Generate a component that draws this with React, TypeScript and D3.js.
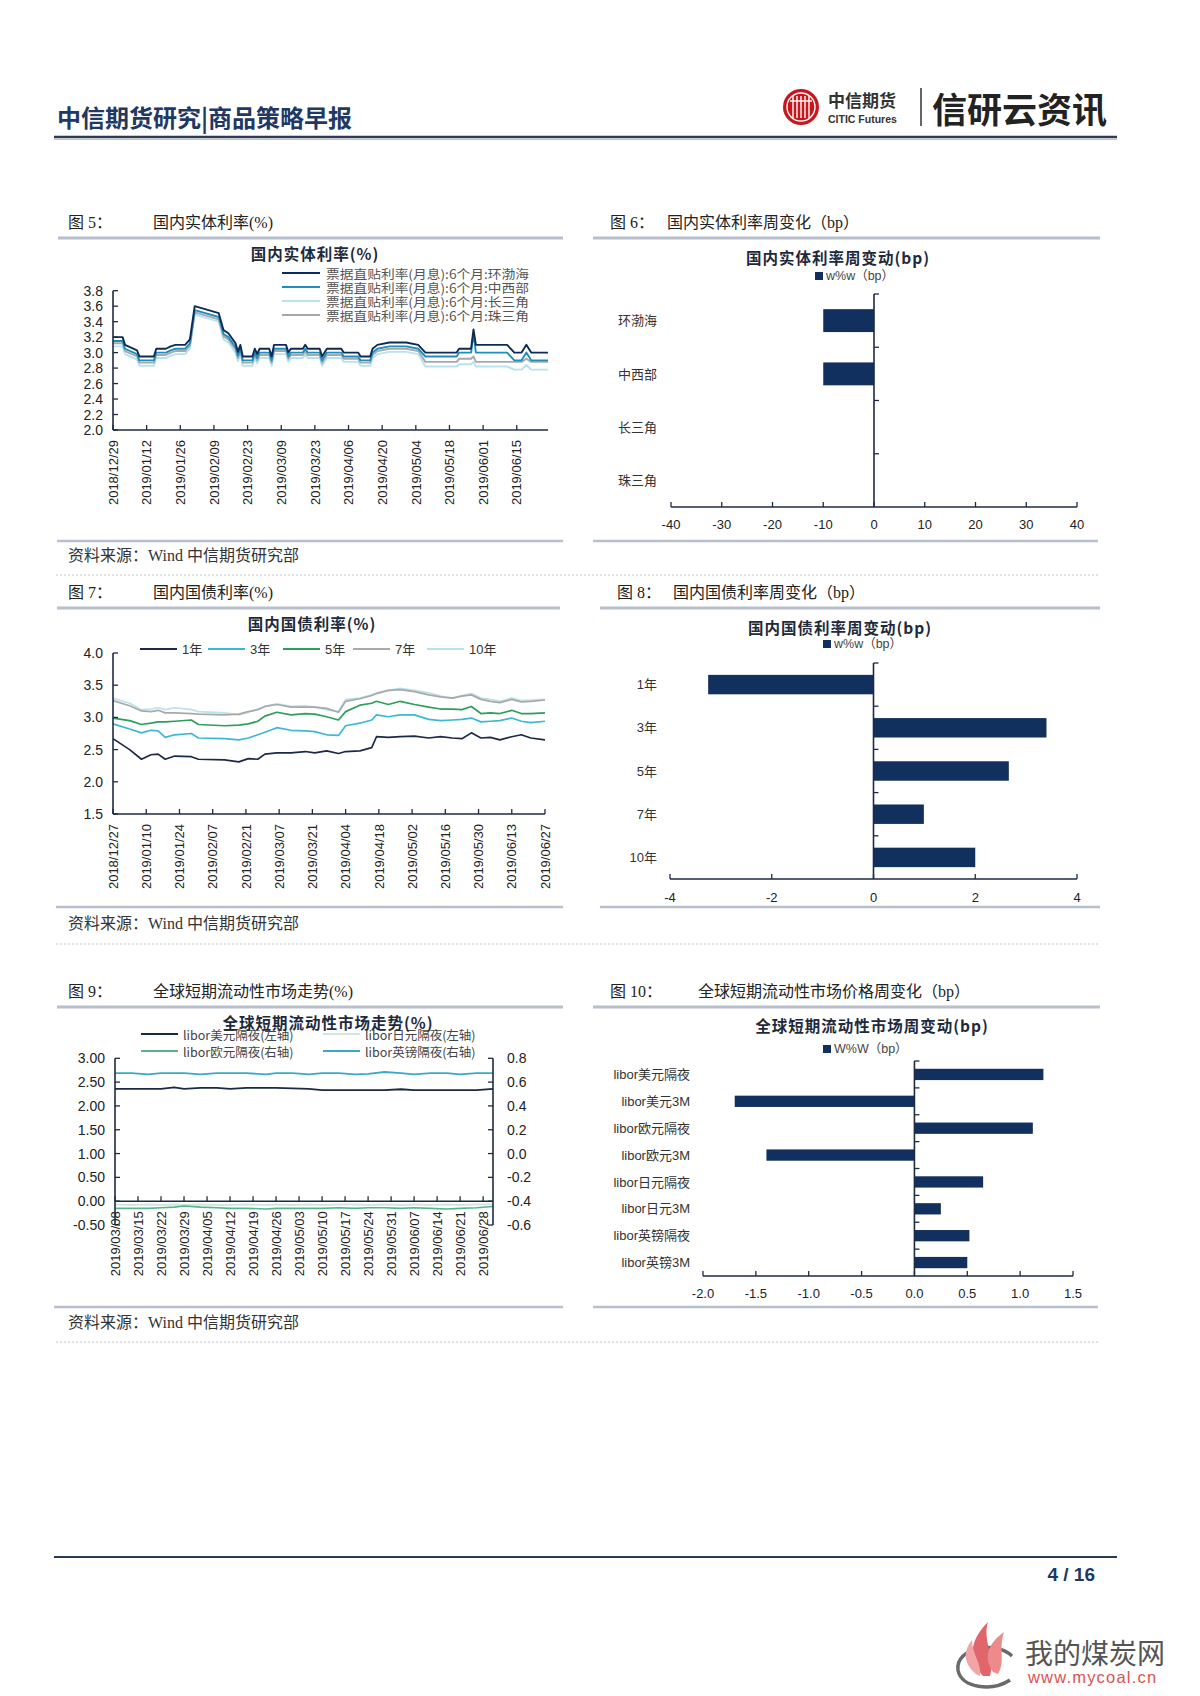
import React from "react";
import * as d3 from "d3";

// ---------------- fonts / colours ----------------
const SANS = "'Liberation Sans', Arial, 'Noto Sans CJK SC', sans-serif";
const SERIF = "'Liberation Serif', 'Noto Sans CJK SC', serif";
const CJK = "'Noto Sans CJK SC', sans-serif";
const NAVY = "#12305e";
const AXIS = "#1d2b45";
const RULE = "#b7c0cc";

// ---------------- chart 5 data ----------------
const dates5 = [
  "2018-12-29", "2019-01-02", "2019-01-03", "2019-01-08", "2019-01-09", "2019-01-15", "2019-01-16", "2019-01-20", "2019-01-22", "2019-01-24",
  "2019-01-28", "2019-01-30", "2019-02-01", "2019-02-11", "2019-02-13", "2019-02-15", "2019-02-18", "2019-02-19", "2019-02-20", "2019-02-21",
  "2019-02-25", "2019-02-26", "2019-02-27", "2019-02-28", "2019-03-04", "2019-03-05", "2019-03-06", "2019-03-11", "2019-03-12", "2019-03-13",
  "2019-03-18", "2019-03-19", "2019-03-20", "2019-03-25", "2019-03-26", "2019-03-28", "2019-04-03", "2019-04-04", "2019-04-10", "2019-04-11",
  "2019-04-15", "2019-04-16", "2019-04-18", "2019-04-23", "2019-04-30", "2019-05-05", "2019-05-08", "2019-05-21", "2019-05-22", "2019-05-27",
  "2019-05-28", "2019-05-29", "2019-06-11", "2019-06-14", "2019-06-17", "2019-06-19", "2019-06-21", "2019-06-28",
];
const huanbohai5 = [
  3.2, 3.2, 3.1, 3.03, 2.95, 2.95, 3.05, 3.05, 3.08, 3.1,
  3.1, 3.17, 3.6, 3.51, 3.29, 3.25, 3.12, 3.01, 3.1, 2.95,
  2.95, 3.05, 2.98, 3.05, 3.05, 2.95, 3.1, 3.1, 3.0, 3.05,
  3.05, 3.1, 3.05, 3.05, 2.95, 3.05, 3.05, 3.0, 3.0, 2.95,
  2.95, 3.05, 3.1, 3.13, 3.13, 3.1, 3.0, 3.0, 3.05, 3.05,
  3.3, 3.1, 3.1, 3.0, 3.0, 3.1, 3.0, 3.0,
];
const zhongxibu5 = [
  3.15, 3.15, 3.05, 2.98, 2.9, 2.9, 3.0, 3.0, 3.03, 3.05,
  3.05, 3.12, 3.55, 3.46, 3.24, 3.2, 3.07, 2.96, 3.05, 2.9,
  2.9, 3.0, 2.93, 3.0, 3.0, 2.9, 3.05, 3.05, 2.95, 3.0,
  3.0, 3.05, 3.0, 3.0, 2.9, 3.0, 3.0, 2.95, 2.95, 2.9,
  2.9, 3.0, 3.05, 3.08, 3.08, 3.05, 2.95, 2.95, 3.0, 3.0,
  3.25, 3.0, 3.0, 2.9, 2.9, 3.0, 2.9, 2.9,
];
const changsanjiao5 = [
  3.08, 3.08, 2.98, 2.91, 2.83, 2.83, 2.93, 2.93, 2.96, 2.98,
  2.98, 3.05, 3.49, 3.4, 3.17, 3.13, 3.0, 2.89, 2.98, 2.83,
  2.83, 2.93, 2.86, 2.93, 2.93, 2.83, 2.98, 2.98, 2.88, 2.93,
  2.93, 2.98, 2.93, 2.93, 2.83, 2.93, 2.93, 2.88, 2.88, 2.83,
  2.83, 2.93, 2.98, 3.01, 3.01, 2.98, 2.82, 2.82, 2.85, 2.85,
  2.88, 2.82, 2.82, 2.78, 2.78, 2.84, 2.78, 2.78,
];
const zhusanjiao5 = [
  3.12, 3.12, 3.02, 2.95, 2.87, 2.87, 2.97, 2.97, 3.0, 3.02,
  3.02, 3.09, 3.52, 3.43, 3.21, 3.17, 3.04, 2.93, 3.02, 2.87,
  2.87, 2.97, 2.9, 2.97, 2.97, 2.87, 3.02, 3.02, 2.92, 2.97,
  2.97, 3.02, 2.97, 2.97, 2.87, 2.97, 2.97, 2.92, 2.92, 2.87,
  2.87, 2.97, 3.02, 3.05, 3.05, 3.02, 2.88, 2.88, 2.92, 2.92,
  2.95, 2.88, 2.88, 2.88, 2.88, 2.92, 2.88, 2.88,
];
const legend5 = [
  "票据直贴利率(月息):6个月:环渤海",
  "票据直贴利率(月息):6个月:中西部",
  "票据直贴利率(月息):6个月:长三角",
  "票据直贴利率(月息):6个月:珠三角",
];
const xLabels5 = [
  "2018/12/29", "2019/01/12", "2019/01/26", "2019/02/09", "2019/02/23", "2019/03/09", "2019/03/23",
  "2019/04/06", "2019/04/20", "2019/05/04", "2019/05/18", "2019/06/01", "2019/06/15",
];
const yTicks5 = [2.0, 2.2, 2.4, 2.6, 2.8, 3.0, 3.2, 3.4, 3.6, 3.8];

// ---------------- chart 6 data ----------------
const cats6 = ["环渤海", "中西部", "长三角", "珠三角"];
const vals6 = [-10, -10, 0, 0];
const ticks6 = [-40, -30, -20, -10, 0, 10, 20, 30, 40];

// ---------------- chart 7 data ----------------
const dates7 = [
  "2018-12-27", "2019-01-03", "2019-01-08", "2019-01-12", "2019-01-15", "2019-01-18", "2019-01-22", "2019-01-29", "2019-02-01", "2019-02-12",
  "2019-02-18", "2019-02-22", "2019-02-26", "2019-03-01", "2019-03-06", "2019-03-12", "2019-03-18", "2019-03-22", "2019-03-27", "2019-04-01",
  "2019-04-04", "2019-04-10", "2019-04-15", "2019-04-17", "2019-04-22", "2019-04-27", "2019-05-03", "2019-05-09", "2019-05-14", "2019-05-19",
  "2019-05-23", "2019-05-27", "2019-05-31", "2019-06-04", "2019-06-08", "2019-06-13", "2019-06-17", "2019-06-21", "2019-06-27",
];
const y1_7 = [
  2.67, 2.5, 2.35, 2.42, 2.43, 2.35, 2.4, 2.39, 2.35, 2.34,
  2.31, 2.36, 2.35, 2.43, 2.45, 2.45, 2.47, 2.45, 2.48, 2.44,
  2.47, 2.48, 2.53, 2.7, 2.69, 2.7, 2.71, 2.68, 2.7, 2.68,
  2.67, 2.76, 2.68, 2.69, 2.65, 2.7, 2.73, 2.68, 2.65,
];
const y3_7 = [
  2.9, 2.82, 2.76, 2.8, 2.79, 2.69, 2.73, 2.75, 2.68, 2.67,
  2.65, 2.68, 2.73, 2.77, 2.84, 2.8, 2.79, 2.78, 2.73, 2.72,
  2.87, 2.91, 2.96, 3.04, 3.01, 3.04, 3.04, 2.97, 2.95, 2.96,
  2.97, 2.99, 2.93, 2.94, 2.95, 2.99, 2.94, 2.92, 2.94,
];
const y5_7 = [
  2.99, 2.95, 2.89, 2.91, 2.93, 2.93, 2.94, 2.96, 2.89, 2.87,
  2.88, 2.9, 2.94, 3.02, 3.08, 3.04, 3.06, 3.05, 3.01, 2.96,
  3.09, 3.19, 3.22, 3.25, 3.2, 3.25, 3.2, 3.16, 3.13, 3.13,
  3.12, 3.17, 3.06, 3.07, 3.06, 3.11, 3.06, 3.06, 3.07,
];
const y7_7 = [
  3.26, 3.18, 3.1, 3.09, 3.11, 3.07, 3.07, 3.06, 3.05, 3.04,
  3.05, 3.09, 3.12, 3.17, 3.2, 3.16, 3.16, 3.16, 3.14, 3.08,
  3.25, 3.29, 3.34, 3.37, 3.42, 3.43, 3.4, 3.35, 3.32, 3.3,
  3.33, 3.35, 3.28, 3.25, 3.23, 3.28, 3.24, 3.25, 3.27,
];
const y10_7 = [
  3.3, 3.22, 3.12, 3.13, 3.15, 3.12, 3.15, 3.12, 3.09, 3.07,
  3.04, 3.08, 3.13, 3.17, 3.21, 3.17, 3.18, 3.16, 3.12, 3.09,
  3.28, 3.3, 3.35, 3.38, 3.42, 3.45, 3.42, 3.38, 3.33, 3.3,
  3.34, 3.37, 3.3, 3.28, 3.25, 3.3, 3.26, 3.27, 3.28,
];
const names7 = ["1年", "3年", "5年", "7年", "10年"];
const xLabels7 = [
  "2018/12/27", "2019/01/10", "2019/01/24", "2019/02/07", "2019/02/21", "2019/03/07", "2019/03/21",
  "2019/04/04", "2019/04/18", "2019/05/02", "2019/05/16", "2019/05/30", "2019/06/13", "2019/06/27",
];
const yTicks7 = [1.5, 2.0, 2.5, 3.0, 3.5, 4.0];

// ---------------- chart 8 data ----------------
const cats8 = ["1年", "3年", "5年", "7年", "10年"];
const vals8 = [-3.25, 3.4, 2.66, 0.99, 2.0];
const ticks8 = [-4, -2, 0, 2, 4];

// ---------------- chart 9 data ----------------
const dates9 = [
  "2019-03-08", "2019-03-13", "2019-03-18", "2019-03-22", "2019-03-26", "2019-03-29", "2019-04-03", "2019-04-08", "2019-04-12", "2019-04-17",
  "2019-04-23", "2019-04-26", "2019-05-01", "2019-05-06", "2019-05-10", "2019-05-15", "2019-05-20", "2019-05-24", "2019-05-29", "2019-06-03",
  "2019-06-07", "2019-06-12", "2019-06-17", "2019-06-21", "2019-06-26", "2019-07-01",
];
const usd9 = [
  2.36, 2.36, 2.36, 2.36, 2.39, 2.36, 2.38, 2.38, 2.36, 2.38,
  2.38, 2.38, 2.37, 2.36, 2.33, 2.33, 2.33, 2.33, 2.33, 2.35,
  2.33, 2.33, 2.33, 2.33, 2.33, 2.36,
];
const jpy9 = [
  -0.07, -0.08, -0.07, -0.08, -0.07, -0.08, -0.07, -0.08, -0.08, -0.07,
  -0.08, -0.07, -0.08, -0.07, -0.08, -0.07, -0.07, -0.08, -0.07, -0.08,
  -0.07, -0.08, -0.07, -0.08, -0.07, -0.07,
];
const eur9 = [
  -0.46, -0.46, -0.46, -0.455, -0.45, -0.44, -0.45, -0.455, -0.46, -0.46,
  -0.465, -0.46, -0.46, -0.46, -0.46, -0.455, -0.46, -0.455, -0.455, -0.46,
  -0.455, -0.46, -0.465, -0.46, -0.455, -0.445,
];
const gbp9 = [
  0.675, 0.675, 0.665, 0.675, 0.675, 0.675, 0.665, 0.675, 0.675, 0.675,
  0.665, 0.675, 0.675, 0.665, 0.675, 0.675, 0.665, 0.67, 0.685, 0.675,
  0.665, 0.675, 0.675, 0.665, 0.675, 0.675,
];
const names9 = ["libor美元隔夜(左轴)", "libor日元隔夜(左轴)", "libor欧元隔夜(右轴)", "libor英镑隔夜(右轴)"];
const xLabels9 = [
  "2019/03/08", "2019/03/15", "2019/03/22", "2019/03/29", "2019/04/05", "2019/04/12", "2019/04/19", "2019/04/26", "2019/05/03",
  "2019/05/10", "2019/05/17", "2019/05/24", "2019/05/31", "2019/06/07", "2019/06/14", "2019/06/21", "2019/06/28",
];
const yTicksLeft9 = [-0.5, 0, 0.5, 1.0, 1.5, 2.0, 2.5, 3.0];
const yTicksRight9 = [-0.6, -0.4, -0.2, 0, 0.2, 0.4, 0.6, 0.8];

// ---------------- chart 10 data ----------------
const cats10 = ["libor美元隔夜", "libor美元3M", "libor欧元隔夜", "libor欧元3M", "libor日元隔夜", "libor日元3M", "libor英镑隔夜", "libor英镑3M"];
const vals10 = [1.22, -1.7, 1.12, -1.4, 0.65, 0.25, 0.52, 0.5];
const ticks10 = [-2.0, -1.5, -1.0, -0.5, 0, 0.5, 1.0, 1.5];

// ---------------- helpers ----------------
const parseD = d3.timeParse("%Y-%m-%d");
const parseL = d3.timeParse("%Y/%m/%d");
const hyphenLocale = d3.formatLocale({ decimal: ".", thousands: ",", grouping: [3], currency: ["", ""], minus: "-" });
const f0 = hyphenLocale.format("d");
const f1 = hyphenLocale.format(".1f");
const f2 = hyphenLocale.format(".2f");

function SeriesLine({ dates, vals, x, y, color, width }: any) {
  const line = d3
    .line<number>()
    .x((_, i) => x(parseD(dates[i])))
    .y((v) => y(v));
  return <path d={line(vals) || ""} fill="none" stroke={color} strokeWidth={width} strokeLinejoin="round" />;
}

function XDateAxis({ x, y0, labels, x0, x1 }: any) {
  return (
    <g>
      <line x1={x0} x2={x1} y1={y0} y2={y0} stroke={AXIS} strokeWidth={1.6} />
      {labels.map((l: string) => {
        const px = x(parseL(l));
        return (
          <g key={l}>
            <line x1={px} x2={px} y1={y0} y2={y0 - 5} stroke={AXIS} strokeWidth={1.3} />
            <text
              transform={`translate(${px},${y0 + 10}) rotate(-90)`}
              textAnchor="end"
              dy="0.36em"
              fontSize={13}
              fontFamily={SANS}
              fill="#222"
            >
              {l}
            </text>
          </g>
        );
      })}
    </g>
  );
}

function YAxis({ y, ticks, x0, fmt, side = "left" }: any) {
  const [d0, d1] = y.domain();
  const dir = side === "left" ? 1 : -1;
  return (
    <g>
      <line x1={x0} x2={x0} y1={y(d0)} y2={y(d1)} stroke={AXIS} strokeWidth={1.6} />
      {ticks.map((t: number) => (
        <g key={t}>
          <line x1={x0} x2={x0 + dir * 5} y1={y(t)} y2={y(t)} stroke={AXIS} strokeWidth={1.3} />
          <text
            x={side === "left" ? x0 - 10 : x0 + 14}
            y={y(t)}
            dy="0.36em"
            textAnchor={side === "left" ? "end" : "start"}
            fontSize={14}
            fontFamily={SANS}
            fill="#222"
          >
            {fmt(t)}
          </text>
        </g>
      ))}
    </g>
  );
}

function ChartTitle({ x, y, text }: any) {
  return (
    <text x={x} y={y} textAnchor="middle" dominantBaseline="central" fontSize={15.5} fontWeight="bold" letterSpacing={1} fontFamily={CJK} fill="#1e2a3c">
      {text}
    </text>
  );
}

function BarChart({ cats, vals, ticks, xr, yr, labelX, tickLabelY, fmt, ratio, legendText, legendX, legendY }: any) {
  const x = d3.scaleLinear().domain([ticks[0], ticks[ticks.length - 1]]).range(xr);
  const band = d3.scaleBand<string>().domain(cats).range(yr).padding(0);
  const bw = band.bandwidth();
  const bh = bw * ratio;
  const x0 = x(0);
  return (
    <g>
      <rect x={legendX} y={legendY - 4} width={8} height={8} fill={NAVY} />
      <text x={legendX + 11} y={legendY} dominantBaseline="central" fontSize={12.5} fontFamily={SANS} fill="#444">
        {legendText}
      </text>
      {cats.map((c: string, i: number) => {
        const v = vals[i];
        const by = (band(c) as number) + (bw - bh) / 2;
        return (
          <g key={c}>
            {v !== 0 && <rect x={Math.min(x0, x(v))} y={by} width={Math.abs(x(v) - x0)} height={bh} fill={NAVY} />}
            <text x={labelX} y={(band(c) as number) + bw / 2} dy="0.36em" textAnchor="end" fontSize={13} fontFamily={SANS} fill="#333">
              {c}
            </text>
          </g>
        );
      })}
      <line x1={x0} x2={x0} y1={yr[0]} y2={yr[1]} stroke={AXIS} strokeWidth={1.6} />
      {cats.map((c: string) => (
        <line key={"t" + c} x1={x0} x2={x0 + 5} y1={band(c) as number} y2={band(c) as number} stroke={AXIS} strokeWidth={1.3} />
      ))}
      <line x1={xr[0]} x2={xr[1]} y1={yr[1]} y2={yr[1]} stroke={AXIS} strokeWidth={1.6} />
      {ticks.map((t: number) => (
        <g key={t}>
          <line x1={x(t)} x2={x(t)} y1={yr[1]} y2={yr[1] - 5} stroke={AXIS} strokeWidth={1.3} />
          <text x={x(t)} y={tickLabelY} dy="0.36em" textAnchor="middle" fontSize={13} fontFamily={SANS} fill="#222">
            {fmt(t)}
          </text>
        </g>
      ))}
    </g>
  );
}

function Caption({ x1, x2, y, text, lineY, lx0, lx1 }: any) {
  return (
    <g>
      <text x={x1} y={y} dominantBaseline="central" fontSize={16} fontFamily={SERIF} fill="#222">
        {text[0]}
      </text>
      <text x={x2} y={y} dominantBaseline="central" fontSize={16} fontFamily={SERIF} fill="#222">
        {text[1]}
      </text>
      <line x1={lx0} x2={lx1} y1={lineY} y2={lineY} stroke={RULE} strokeWidth={3} />
    </g>
  );
}

// ---------------- charts ----------------
function Chart5() {
  const x = d3.scaleTime().domain([parseD("2018-12-29") as Date, parseD("2019-06-28") as Date]).range([113, 548]);
  const y = d3.scaleLinear().domain([2.0, 3.8]).range([430, 290.7]);
  const colors = ["#0e2b57", "#1d8fbd", "#b6e3ef", "#a8a8a8"];
  const series = [huanbohai5, zhongxibu5, changsanjiao5, zhusanjiao5];
  const order = [2, 3, 1, 0];
  return (
    <g>
      <ChartTitle x={315} y={253} text="国内实体利率(%)" />
      {legend5.map((n, i) => (
        <g key={n}>
          <line x1={282} x2={320} y1={273 + i * 14} y2={273 + i * 14} stroke={colors[i]} strokeWidth={2} />
          <text
            x={326}
            y={273 + i * 14}
            dominantBaseline="central"
            fontSize={12.5}
            textLength={203}
            lengthAdjust="spacingAndGlyphs"
            fontFamily={CJK}
            fill="#555"
          >
            {n}
          </text>
        </g>
      ))}
      {order.map((k) => (
        <SeriesLine key={k} dates={dates5} vals={series[k]} x={x} y={y} color={colors[k]} width={1.9} />
      ))}
      <YAxis y={y} ticks={yTicks5} x0={113} fmt={f1} />
      <XDateAxis x={x} y0={430} labels={xLabels5} x0={113} x1={548} />
    </g>
  );
}

function Chart7() {
  const x = d3.scaleTime().domain([parseD("2018-12-27") as Date, parseD("2019-06-27") as Date]).range([113, 545]);
  const y = d3.scaleLinear().domain([1.5, 4.0]).range([814, 653]);
  const colors = ["#1b2a48", "#3bb8d6", "#2d9e5c", "#a9a9a9", "#b9e2ef"];
  const series = [y1_7, y3_7, y5_7, y7_7, y10_7];
  const legX = [140, 208, 283, 353, 427];
  const order = [4, 3, 2, 1, 0];
  return (
    <g>
      <ChartTitle x={312} y={623} text="国内国债利率(%)" />
      {names7.map((n, i) => (
        <g key={n}>
          <line x1={legX[i]} x2={legX[i] + 37} y1={649} y2={649} stroke={colors[i]} strokeWidth={2} />
          <text x={legX[i] + 42} y={649} dominantBaseline="central" fontSize={13} fontFamily={SANS} fill="#333">
            {n}
          </text>
        </g>
      ))}
      {order.map((k) => (
        <SeriesLine key={k} dates={dates7} vals={series[k]} x={x} y={y} color={colors[k]} width={1.7} />
      ))}
      <YAxis y={y} ticks={yTicks7} x0={113} fmt={f1} />
      <XDateAxis x={x} y0={814} labels={xLabels7} x0={113} x1={545} />
    </g>
  );
}

function Chart9() {
  const x = d3.scaleTime().domain([parseD("2019-03-08") as Date, parseD("2019-07-01") as Date]).range([115, 493]);
  const yl = d3.scaleLinear().domain([-0.5, 3.0]).range([1225, 1058.3]);
  const yr = d3.scaleLinear().domain([-0.6, 0.8]).range([1225, 1058.3]);
  const colors = ["#1a2a44", "#cfe8df", "#58b48c", "#3aa9c9"];
  const legPos = [
    [141, 1034],
    [323, 1034],
    [141, 1051],
    [323, 1051],
  ];
  return (
    <g>
      {names9.map((n, i) => (
        <g key={n}>
          <line x1={legPos[i][0]} x2={legPos[i][0] + 37} y1={legPos[i][1]} y2={legPos[i][1]} stroke={colors[i]} strokeWidth={2} />
          <text x={legPos[i][0] + 42} y={legPos[i][1]} dominantBaseline="central" fontSize={12.5} fontFamily={CJK} fill="#444">
            {n}
          </text>
        </g>
      ))}
      <ChartTitle x={328} y={1022} text="全球短期流动性市场走势(%)" />
      <SeriesLine dates={dates9} vals={jpy9} x={x} y={yl} color={colors[1]} width={1.8} />
      <SeriesLine dates={dates9} vals={eur9} x={x} y={yr} color={colors[2]} width={1.6} />
      <SeriesLine dates={dates9} vals={gbp9} x={x} y={yr} color={colors[3]} width={1.8} />
      <SeriesLine dates={dates9} vals={usd9} x={x} y={yl} color={colors[0]} width={1.8} />
      <YAxis y={yl} ticks={yTicksLeft9} x0={115} fmt={f2} />
      <YAxis y={yr} ticks={yTicksRight9} x0={493} fmt={f1} side="right" />
      <XDateAxis x={x} y0={yl(0)} labels={xLabels9} x0={115} x1={493} />
    </g>
  );
}

function Logo() {
  return (
    <g>
      <circle cx={801} cy={107} r={18} fill="#c8161d" />
      <circle cx={801} cy={107} r={14} fill="none" stroke="#fff" strokeWidth={1.4} />
      {[-8, -4, 0, 4, 8].map((d) => (
        <line key={d} x1={801 + d} x2={801 + d} y1={96} y2={118} stroke="#fff" strokeWidth={1.4} />
      ))}
      <line x1={790} x2={812} y1={101} y2={101} stroke="#fff" strokeWidth={1.4} />
      <text x={828} y={99} dominantBaseline="central" fontSize={17} fontWeight="bold" fontFamily={CJK} fill="#333">
        中信期货
      </text>
      <text x={828} y={119} dominantBaseline="central" fontSize={10.5} fontWeight="bold" fontFamily={SANS} fill="#333">
        CITIC Futures
      </text>
      <line x1={921} x2={921} y1={88} y2={126} stroke="#333" strokeWidth={1.5} />
      <text x={932} y={107} dominantBaseline="central" fontSize={35} fontWeight="bold" fontFamily={CJK} fill="#222">
        信研云资讯
      </text>
    </g>
  );
}

function Watermark() {
  return (
    <g>
      <path d="M1012 1656 C995 1640, 955 1648, 958 1670 C961 1688, 992 1692, 1010 1680" fill="none" stroke="#6a6a6a" strokeWidth={3.5} />
      <path d="M983 1676 C966 1656, 972 1638, 988 1622 C982 1642, 996 1656, 990 1676 Z" fill="#e0666b" />
      <path d="M993 1672 C982 1656, 990 1642, 1004 1632 C998 1650, 1006 1660, 998 1674 Z" fill="#ec8a8c" />
      <path d="M976 1674 C962 1662, 964 1650, 972 1640 C972 1654, 982 1664, 980 1676 Z" fill="#f2a5a6" />
      <text x={1025} y={1652} dominantBaseline="central" fontSize={28} fontFamily={CJK} fill="#555">
        我的煤炭网
      </text>
      <text x={1028} y={1677} dominantBaseline="central" fontSize={16.5} letterSpacing={1.2} fontFamily={SANS} fill="#d9534f">
        www.mycoal.cn
      </text>
    </g>
  );
}

export default function App() {
  const src = "资料来源：Wind  中信期货研究部";
  return (
    <svg width={1200} height={1696} style={{ position: "absolute", left: 0, top: 0, background: "#fff" }}>
      <rect x={0} y={0} width={1200} height={1696} fill="#fff" />
      {/* header */}
      <text x={57} y={116} dominantBaseline="central" fontSize={24} fontWeight="bold" fontFamily={CJK} fill="#1f3864">
        中信期货研究|商品策略早报
      </text>
      <Logo />
      <line x1={54} x2={1117} y1={137} y2={137} stroke="#2a3a58" strokeWidth={2.5} />
      <line x1={54} x2={1117} y1={139.5} y2={139.5} stroke="#b9c2cf" strokeWidth={1} />

      {/* row 1 */}
      <Caption x1={68} x2={153} y={222} text={["图 5：", "国内实体利率(%)"]} lineY={238} lx0={58} lx1={563} />
      <Caption x1={610} x2={667} y={222} text={["图 6：", "国内实体利率周变化（bp）"]} lineY={238} lx0={593} lx1={1100} />
      <Chart5 />
      <ChartTitle x={838} y={257} text="国内实体利率周变动(bp)" />
      <BarChart
        cats={cats6}
        vals={vals6}
        ticks={ticks6}
        xr={[671, 1077]}
        yr={[294, 507]}
        labelX={657}
        tickLabelY={524}
        fmt={f0}
        ratio={0.43}
        legendText="w%w（bp）"
        legendX={815}
        legendY={276}
      />
      <line x1={57} x2={563} y1={541} y2={541} stroke={RULE} strokeWidth={2.5} />
      <line x1={593} x2={1098} y1={541} y2={541} stroke={RULE} strokeWidth={2.5} />
      <text x={68} y={555} dominantBaseline="central" fontSize={16} fontFamily={SERIF} fill="#333">
        {src}
      </text>
      <line x1={56} x2={1098} y1={575} y2={575} stroke="#c4c4c4" strokeWidth={1} strokeDasharray="2,2" />

      {/* row 2 */}
      <Caption x1={68} x2={153} y={592} text={["图 7：", "国内国债利率(%)"]} lineY={608} lx0={57} lx1={560} />
      <Caption x1={617} x2={673} y={592} text={["图 8：", "国内国债利率周变化（bp）"]} lineY={608} lx0={600} lx1={1100} />
      <Chart7 />
      <ChartTitle x={840} y={627} text="国内国债利率周变动(bp)" />
      <BarChart
        cats={cats8}
        vals={vals8}
        ticks={ticks8}
        xr={[670, 1077]}
        yr={[663, 879]}
        labelX={657}
        tickLabelY={897}
        fmt={f0}
        ratio={0.45}
        legendText="w%w（bp）"
        legendX={823}
        legendY={644}
      />
      <line x1={56} x2={563} y1={907} y2={907} stroke={RULE} strokeWidth={2.5} />
      <line x1={600} x2={1100} y1={907} y2={907} stroke={RULE} strokeWidth={2.5} />
      <text x={68} y={923} dominantBaseline="central" fontSize={16} fontFamily={SERIF} fill="#333">
        {src}
      </text>
      <line x1={56} x2={1098} y1={944} y2={944} stroke="#c4c4c4" strokeWidth={1} strokeDasharray="2,2" />

      {/* row 3 */}
      <Caption x1={68} x2={153} y={991} text={["图 9：", "全球短期流动性市场走势(%)"]} lineY={1007} lx0={57} lx1={563} />
      <Caption x1={610} x2={698} y={991} text={["图 10：", "全球短期流动性市场价格周变化（bp）"]} lineY={1007} lx0={593} lx1={1100} />
      <Chart9 />
      <ChartTitle x={872} y={1025} text="全球短期流动性市场周变动(bp)" />
      <BarChart
        cats={cats10}
        vals={vals10}
        ticks={ticks10}
        xr={[703, 1073]}
        yr={[1061, 1276]}
        labelX={690}
        tickLabelY={1293}
        fmt={f1}
        ratio={0.42}
        legendText="W%W（bp）"
        legendX={823}
        legendY={1049}
      />
      <line x1={54} x2={563} y1={1307} y2={1307} stroke={RULE} strokeWidth={2.5} />
      <line x1={593} x2={1098} y1={1307} y2={1307} stroke={RULE} strokeWidth={2.5} />
      <text x={68} y={1322} dominantBaseline="central" fontSize={16} fontFamily={SERIF} fill="#333">
        {src}
      </text>
      <line x1={56} x2={1098} y1={1342} y2={1342} stroke="#c4c4c4" strokeWidth={1} strokeDasharray="2,2" />

      {/* footer */}
      <line x1={54} x2={1117} y1={1557} y2={1557} stroke="#2a3a58" strokeWidth={2} />
      <text x={1095} y={1574} textAnchor="end" dominantBaseline="central" fontSize={19} fontWeight="bold" fontFamily={SANS} fill="#1f3864">
        4 / 16
      </text>
      <Watermark />
    </svg>
  );
}
